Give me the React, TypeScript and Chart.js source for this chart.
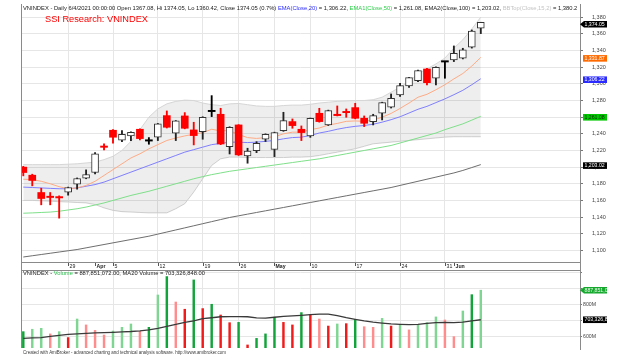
import React, { useEffect, useRef } from "react";
import { Chart, registerables } from "chart.js";
Chart.register(...registerables);

const FONT = "'Liberation Sans', Arial, sans-serif";

// ---------- data ----------
const sessions = [
  "2021-03-22","2021-03-23","2021-03-24","2021-03-25","2021-03-26",
  "2021-03-29","2021-03-30","2021-03-31","2021-04-01","2021-04-02",
  "2021-04-05","2021-04-06","2021-04-07","2021-04-08","2021-04-09",
  "2021-04-12","2021-04-13","2021-04-14","2021-04-15","2021-04-16",
  "2021-04-19","2021-04-20","2021-04-22","2021-04-23",
  "2021-04-26","2021-04-27","2021-04-28","2021-04-29",
  "2021-05-04","2021-05-05","2021-05-06","2021-05-07",
  "2021-05-10","2021-05-11","2021-05-12","2021-05-13","2021-05-14",
  "2021-05-17","2021-05-18","2021-05-19","2021-05-20","2021-05-21",
  "2021-05-24","2021-05-25","2021-05-26","2021-05-27","2021-05-28",
  "2021-05-31","2021-06-01","2021-06-02","2021-06-03","2021-06-04",
];

const openPx = [
  1200, 1190.3, 1169.5, 1164.5, 1164, 1169.9, 1179.5, 1186.7, 1193.5, 1224.8,
  1244.3, 1232.3, 1237.5, 1245.5, 1231.3, 1235.9, 1261.9, 1240.7, 1261.5, 1244.7,
  1242.7, 1266.7, 1263.5, 1224.7, 1250.7, 1213.4, 1219.8, 1233.5, 1221.4, 1243.9,
  1254.7, 1245.5, 1237.5, 1264.7, 1250.7, 1263.5, 1266.4, 1271.5, 1258.7, 1254.7,
  1264.7, 1271.9, 1286.7, 1297.5, 1303.9, 1317.9, 1306.8, 1326.3, 1328.8, 1330.8,
  1344, 1367.08,
];
const highPx = [
  1201, 1191.5, 1174.7, 1169.5, 1165.5, 1176, 1187, 1196.7, 1217.5, 1227.9,
  1245, 1243.9, 1242.5, 1246, 1235.5, 1252.5, 1267.5, 1256, 1265.5, 1253.9,
  1260.5, 1285.9, 1270.7, 1248.5, 1251, 1222.7, 1230.6, 1240, 1242, 1265.9,
  1257.9, 1249.5, 1259, 1270.7, 1268.5, 1273.5, 1269.9, 1276.7, 1261.5, 1263.5,
  1278, 1287.9, 1300.8, 1308, 1316.5, 1318.7, 1320.6, 1326.8, 1345.6, 1342.8,
  1364.8, 1374.05,
];
const lowPx = [
  1189.5, 1177.5, 1154.7, 1154.7, 1138.7, 1166.3, 1173.5, 1186, 1191.9, 1220.7,
  1228.7, 1230.7, 1231.9, 1232.7, 1227.5, 1231.9, 1247, 1231.9, 1246, 1226.7,
  1233.5, 1260.7, 1227, 1215.8, 1214, 1204.7, 1217.4, 1230.7, 1212.6, 1243,
  1246.7, 1231.9, 1235.8, 1254, 1250, 1261.5, 1259.9, 1258, 1248.7, 1250.7,
  1256.7, 1271, 1285, 1295.9, 1302.7, 1298.8, 1298.8, 1306.8, 1326.8, 1330,
  1343, 1360.42,
];
const closePx = [
  1193.5, 1184, 1162.3, 1163.5, 1163, 1175.5, 1186.3, 1191.1, 1215.9, 1223.8,
  1235.9, 1239.5, 1241.9, 1234.3, 1231.3, 1251.9, 1247.9, 1255.5, 1246.7, 1237.9,
  1259.9, 1266.7, 1227.8, 1247.9, 1214.7, 1219.4, 1228.7, 1239.5, 1241.5, 1255.9,
  1249.9, 1241.5, 1258.7, 1254.7, 1267.9, 1261.9, 1265.4, 1258.7, 1252.7, 1261.9,
  1277.5, 1282.7, 1297.9, 1307.5, 1315.9, 1301.5, 1319.9, 1326.3, 1336.8, 1340.8,
  1363.6, 1374.05,
];

// orange line (shorter EMA)
const emaShort = [
  1185.5, 1185, 1183, 1180, 1176.5, 1174, 1175, 1178, 1183, 1190,
  1197, 1204, 1211, 1216, 1222, 1227, 1232, 1235, 1237.5, 1239.5,
  1241.5, 1245.5, 1243.5, 1244, 1239, 1235.5, 1234.5, 1235.5, 1236.5, 1240,
  1242, 1242, 1245, 1247, 1250.5, 1252.5, 1255, 1255.5, 1255, 1256.5,
  1260, 1264.5, 1270.5, 1277, 1284, 1287.5, 1293, 1299, 1306, 1312.5,
  1321.5, 1331.87,
];
// EMA(Close,20) blue
const ema20 = [
  1176, 1175.5, 1175, 1174.5, 1174, 1174, 1175, 1177, 1179, 1182,
  1186, 1190, 1194, 1198, 1202, 1206, 1210, 1214, 1218, 1221,
  1224, 1227, 1228.5, 1230, 1230, 1229.5, 1230, 1231, 1232, 1234,
  1235.5, 1236, 1238, 1241, 1243, 1245.5, 1247.5, 1249, 1250, 1251.5,
  1254, 1257, 1260.5, 1265, 1269.5, 1273, 1277.5, 1282, 1287, 1292.3,
  1299, 1306.22,
];
// EMA1(Close,50) green
const ema50 = [
  1144.6, 1145, 1145.5, 1146, 1147, 1148.5, 1150, 1152, 1154.5, 1157,
  1160, 1163, 1166, 1168.5, 1171, 1174, 1177, 1180, 1183, 1186,
  1188.6, 1191, 1193, 1195, 1196.5, 1198, 1199.5, 1201, 1202.5, 1204,
  1205.5, 1207, 1208.5, 1210, 1212, 1214, 1216, 1218, 1220, 1222,
  1224, 1226, 1229, 1232, 1235, 1238, 1241, 1245, 1248.5, 1252,
  1256.5, 1261.08,
];
// EMA2(Close,100) dark grey
const ema100 = [
  1092, 1093.5, 1095, 1096.5, 1098, 1099.5, 1101, 1103, 1105, 1107,
  1109, 1111, 1113, 1115, 1117, 1119.5, 1122, 1124.5, 1127, 1129.5,
  1132, 1134.5, 1137, 1139.5, 1141.5, 1143.5, 1145.5, 1147.5, 1149.5, 1151.5,
  1153.5, 1155.5, 1157.5, 1159.5, 1161.5, 1163.5, 1165.5, 1167.5, 1169.5, 1171.5,
  1173.5, 1175.5, 1178, 1180.5, 1183, 1185.5, 1188, 1190.5, 1193, 1196,
  1199.5, 1203.02,
];
// Bollinger bands (15, 2)
const bbTop = [
  1203, 1203, 1203, 1203, 1203, 1203.5, 1204, 1205, 1206, 1209,
  1213, 1220, 1231, 1245, 1260, 1270, 1276, 1279, 1280.5, 1280,
  1277, 1275, 1274, 1276, 1276.5, 1275, 1273.5, 1273, 1273, 1274,
  1274.5, 1274.5, 1275.5, 1277, 1278, 1279, 1279.5, 1280, 1280, 1281,
  1284, 1290, 1296, 1303, 1312, 1318, 1324, 1331, 1343, 1353,
  1366, 1380.2,
];
const bbBottom = [
  1160, 1160, 1159.5, 1159, 1158.5, 1158, 1157.5, 1157, 1155, 1151,
  1148, 1146.5, 1146, 1145.5, 1145, 1145, 1145, 1150, 1156, 1170,
  1186, 1202, 1210, 1212, 1212, 1211.5, 1211.5, 1211.5, 1211.5, 1211.5,
  1212, 1212, 1212.5, 1214, 1216, 1218, 1220, 1222, 1225, 1228,
  1229, 1230, 1231, 1232, 1233, 1234, 1235, 1236, 1236.5, 1236.5,
  1236.5, 1236.5,
];

// volume, millions of shares
const volumeM = [
  629, 644, 650, 615, 629, 592, 708, 671, 637, 608,
  633, 656, 677, 631, 656, 858, 973, 814, 769, 952,
  773, 800, 733, 685, 687, 546, 587, 615, 719, 687,
  671, 748, 733, 708, 664, 677, 679, 706, 660, 656,
  712, 664, 671, 640, 671, 685, 721, 702, 598, 758,
  860, 887.851072,
];
// bar shade: G dark green, g light green, R red, r pink
const volumeTone = [
  "G","g","g","r","g","R","g","r","r","r",
  "g","g","g","r","G","g","G","r","R","G",
  "R","G","R","R","G","R","G","G","G","R",
  "R","G","R","r","R","g","R","G","r","r",
  "g","R","g","r","g","g","g","r","r","g",
  "G","g",
];
const volumeMA20 = [
  587, 590, 592, 600, 606, 612, 615, 618, 621, 623,
  625, 628, 630, 634, 640, 650, 662, 675, 687, 696,
  710, 716, 722, 723, 723, 722, 715, 714, 719, 725,
  728, 731, 735, 739, 739, 729, 716, 706, 696, 688,
  682, 677, 675, 673, 675, 681, 685, 687, 686, 688,
  696, 703.326848,
];

const priceTicks = [1100, 1120, 1140, 1160, 1180, 1200, 1220, 1240, 1260, 1280, 1300, 1320, 1340, 1360, 1380];
const volumeTicks = [600, 700, 800, 900, 1000];
const volumeLabelled = [600, 800];
const weekGridIdx = [5, 10, 15, 20, 24, 28, 32, 37, 42, 47];
const axisLabelIdx = [5, 8, 10, 15, 20, 24, 28, 32, 37, 42, 47, 48];
const axisLabelText = ["29", "Apr", "5", "12", "19", "26", "May", "10", "17", "24", "31", "Jun"];

const mainHeader: [string, string][] = [
  ["VNINDEX - Daily 6/4/2021 00:00:00 Open 1367.08, Hi 1374.05, Lo 1360.42, Close 1374.05 (0.7%) ", "#1a1a1a"],
  ["EMA(Close,20)", "#2a2aff"],
  [" = 1,306.22, ", "#1a1a1a"],
  ["EMA1(Close,50)", "#2ecc4a"],
  [" = 1,261.08, ", "#1a1a1a"],
  ["EMA2(Close,100) = 1,203.02, ", "#1a1a1a"],
  ["BBTop(Close,15,2)", "#c4c4c4"],
  [" = 1,380.2", "#1a1a1a"],
];
const chartTitle = "SSI Research: VNINDEX";
const volumeHeader: [string, string][] = [
  ["VNINDEX - ", "#1a1a1a"],
  ["Volume", "#2ec050"],
  [" = 887,851,072.00, MA20 Volume = 703,326,848.00", "#1a1a1a"],
];
const creditText = "Created with AmiBroker - advanced charting and technical analysis software. http://www.amibroker.com";

// ---------- styling ----------
const X_MIN = -0.256;
const X_MAX = 62.06;
const GRID = "#e6e6e6";
const FRAME = "#8a8a8a";
const TONE: Record<string, string> = { G: "#12a43a", g: "#7fd692", R: "#f01c1c", r: "#ff8d8d" };

function fitRun(ctx: CanvasRenderingContext2D, parts: [string, string][], x: number, y: number, width: number, weight = "") {
  ctx.font = `${weight} 10px ${FONT}`;
  const w10 = ctx.measureText(parts.map((p) => p[0]).join("")).width;
  const size = (10 * width) / w10;
  ctx.font = `${weight} ${size}px ${FONT}`;
  ctx.textBaseline = "middle";
  ctx.textAlign = "left";
  let cx = x;
  for (const [t, c] of parts) {
    ctx.fillStyle = c;
    ctx.fillText(t, cx, y);
    cx += ctx.measureText(t).width;
  }
}

function drawTag(ctx: CanvasRenderingContext2D, y: number, text: string, bg: string, fg: string, arrow: boolean) {
  const h = 6.6;
  const left = arrow ? 580 : 583;
  const right = 607;
  ctx.save();
  ctx.beginPath();
  if (arrow) {
    ctx.moveTo(left, y);
    ctx.lineTo(left + 4, y - h / 2);
    ctx.lineTo(right, y - h / 2);
    ctx.lineTo(right, y + h / 2);
    ctx.lineTo(left + 4, y + h / 2);
    ctx.closePath();
  } else {
    ctx.rect(left, y - h / 2, right - left, h);
  }
  ctx.fillStyle = bg;
  ctx.fill();
  ctx.clip();
  ctx.font = `5.2px ${FONT}`;
  ctx.fillStyle = fg;
  ctx.textAlign = "left";
  ctx.textBaseline = "middle";
  ctx.fillText(text, 584.5, y + 0.3);
  ctx.restore();
}

const fmt2 = (v: number) => v.toLocaleString("en-US", { minimumFractionDigits: 2, maximumFractionDigits: 2 });

const whiteBg = {
  id: "whiteBg",
  beforeDraw(chart: any) {
    const c = chart.ctx;
    c.save();
    c.fillStyle = "#ffffff";
    c.fillRect(0, 0, chart.width, chart.height);
    c.restore();
  },
};

const mainDecor = {
  id: "mainDecor",
  afterDraw(chart: any) {
    const ctx: CanvasRenderingContext2D = chart.ctx;
    const xs = chart.scales.x;
    const ys = chart.scales.y;
    const area = chart.chartArea;
    ctx.save();
    // frame lines
    ctx.strokeStyle = FRAME;
    ctx.lineWidth = 1;
    ctx.beginPath();
    ctx.moveTo(area.left + 0.5, area.top);
    ctx.lineTo(area.left + 0.5, chart.height);
    ctx.moveTo(area.right + 0.5, area.bottom);
    ctx.lineTo(area.right + 0.5, chart.height);
    ctx.stroke();
    // date row
    ctx.strokeStyle = "#555";
    ctx.fillStyle = "#222";
    ctx.textBaseline = "middle";
    ctx.textAlign = "left";
    axisLabelIdx.forEach((idx, k) => {
      const px = Math.round(xs.getPixelForValue(idx));
      ctx.beginPath();
      ctx.moveTo(px + 0.5, area.bottom + 1);
      ctx.lineTo(px + 0.5, area.bottom + 4);
      ctx.stroke();
      const txt = axisLabelText[k];
      const isMonth = /[A-Za-z]/.test(txt);
      ctx.font = `${isMonth ? "bold " : ""}5.2px ${FONT}`;
      ctx.fillText(txt, px + 1.5, area.bottom + 4.2);
    });
    // header lines
    fitRun(ctx, mainHeader, 23, 8, 556);
    fitRun(ctx, [[chartTitle, "#ff0000"]], 45, 19.6, 103);
    // value tags
    const last = sessions.length - 1;
    const yp = (v: number) => ys.getPixelForValue(v) + 1;
    drawTag(ctx, yp(ema100[last]), fmt2(ema100[last]), "#000000", "#ffffff", false);
    drawTag(ctx, yp(ema50[last]), fmt2(ema50[last]), "#00c800", "#062a06", false);
    drawTag(ctx, yp(ema20[last]), fmt2(ema20[last]), "#2b2bff", "#ffffff", false);
    drawTag(ctx, yp(emaShort[last]), fmt2(emaShort[last]), "#ff6a00", "#ffffff", false);
    drawTag(ctx, yp(closePx[last]) + 1, fmt2(closePx[last]), "#000000", "#ffffff", true);
    ctx.restore();
  },
};

const volDecor = {
  id: "volDecor",
  afterDraw(chart: any) {
    const ctx: CanvasRenderingContext2D = chart.ctx;
    const ys = chart.scales.y;
    const area = chart.chartArea;
    ctx.save();
    ctx.strokeStyle = FRAME;
    ctx.lineWidth = 1;
    ctx.beginPath();
    ctx.moveTo(area.left, 0.5);
    ctx.lineTo(area.right + 1, 0.5);
    ctx.moveTo(area.left + 0.5, 0);
    ctx.lineTo(area.left + 0.5, area.bottom);
    ctx.moveTo(area.right + 0.5, 0);
    ctx.lineTo(area.right + 0.5, area.bottom + 2);
    ctx.stroke();
    fitRun(ctx, volumeHeader, 23, 3.6, 182);
    const last = sessions.length - 1;
    drawTag(ctx, ys.getPixelForValue(volumeMA20[last]), Math.round(volumeMA20[last] * 1e6).toLocaleString("en-US"), "#000000", "#ffffff", false);
    drawTag(ctx, ys.getPixelForValue(volumeM[last]), Math.round(volumeM[last] * 1e6).toLocaleString("en-US"), "#16a82e", "#e8ffe8", true);
    fitRun(ctx, [[creditText, "#3a3a3a"]], 23, 82.4, 204);
    ctx.restore();
  },
};

export default function App() {
  const mainRef = useRef<HTMLCanvasElement>(null);
  const volRef = useRef<HTMLCanvasElement>(null);

  useEffect(() => {
    document.body.style.margin = "0";
    const idx = sessions.map((_, i) => i);
    const up = idx.map((i) => closePx[i] > openPx[i]);
    const down = idx.map((i) => closePx[i] < openPx[i]);
    const bodyFill = idx.map((i) => (up[i] ? "#ffffff" : down[i] ? "#ff0000" : "#000000"));
    const bodyBorder = idx.map((i) => (up[i] ? "#333333" : down[i] ? "#ff0000" : "#000000"));
    const wickColor = idx.map((i) => (up[i] ? "#222222" : down[i] ? "#ff0000" : "#000000"));

    const line = (data: number[], color: string, order: number, extra: any = {}) => ({
      type: "line",
      data: data.map((v, i) => ({ x: i, y: v })),
      borderColor: color,
      borderWidth: 1,
      pointRadius: 0,
      tension: 0,
      fill: false,
      order,
      ...extra,
    });

    const mainChart = new Chart(mainRef.current as HTMLCanvasElement, {
      type: "bar",
      data: {
        datasets: [
          line(bbTop, "#d6d6d6", 9, { fill: "+1", backgroundColor: "rgba(0,0,0,0.065)" }),
          line(bbBottom, "#d6d6d6", 10),
          line(ema100, "#6e6e6e", 6),
          line(ema50, "#7fe08a", 5),
          line(ema20, "#7f7fff", 4),
          line(emaShort, "#ffab85", 3),
          {
            type: "bar",
            data: idx.map((i) => ({ x: i, y: [lowPx[i], highPx[i]] })),
            backgroundColor: wickColor,
            borderWidth: 0,
            barThickness: 1.2,
            grouped: false,
            order: 2,
          },
          {
            type: "bar",
            data: idx.map((i) => ({ x: i, y: [openPx[i], closePx[i]] })),
            backgroundColor: bodyFill,
            borderColor: bodyBorder,
            borderWidth: idx.map((i) => (up[i] ? 1 : 0)),
            borderSkipped: false,
            barThickness: 7,
            minBarLength: 1.3,
            grouped: false,
            order: 1,
          },
        ] as any,
      },
      options: {
        responsive: false,
        animation: false,
        devicePixelRatio: 1,
        events: [],
        layout: { padding: { left: 21, top: 4, right: 0, bottom: 0 }, autoPadding: false } as any,
        plugins: { legend: { display: false }, tooltip: { enabled: false } },
        scales: {
          x: {
            type: "linear",
            min: X_MIN,
            max: X_MAX,
            offset: false,
            afterBuildTicks: (s: any) => {
              s.ticks = weekGridIdx.map((v) => ({ value: v }));
            },
            afterFit: (s: any) => {
              s.height = 8;
              s.paddingLeft = 0;
              s.paddingRight = 0;
            },
            ticks: { display: false, autoSkip: false },
            grid: { color: GRID, drawTicks: false, offset: false },
            border: { display: true, color: FRAME },
          },
          y: {
            type: "linear",
            position: "right",
            min: 1086,
            max: 1396,
            afterBuildTicks: (s: any) => {
              s.ticks = priceTicks.map((v) => ({ value: v }));
            },
            afterFit: (s: any) => {
              s.width = 53;
              s.paddingTop = 0;
              s.paddingBottom = 0;
            },
            ticks: {
              autoSkip: false,
              padding: 9,
              color: "#444",
              font: { family: FONT, size: 5.5 },
              callback: (v: any) => Number(v).toLocaleString("en-US"),
            },
            grid: { color: GRID, tickLength: 3, tickColor: "#777" },
            border: { color: FRAME },
          },
        } as any,
      },
      plugins: [whiteBg, mainDecor],
    } as any);

    const volChart = new Chart(volRef.current as HTMLCanvasElement, {
      type: "bar",
      data: {
        datasets: [
          line(volumeMA20, "#3a3a3a", 1, { borderWidth: 1.3 }),
          {
            type: "bar",
            data: volumeM.map((v, i) => ({ x: i, y: v })),
            backgroundColor: volumeTone.map((t) => TONE[t]),
            borderWidth: 0,
            barThickness: 1.8,
            grouped: false,
            order: 2,
          },
        ] as any,
      },
      options: {
        responsive: false,
        animation: false,
        devicePixelRatio: 1,
        events: [],
        layout: { padding: { left: 21, top: 0, right: 0, bottom: 14 }, autoPadding: false } as any,
        plugins: { legend: { display: false }, tooltip: { enabled: false } },
        scales: {
          x: {
            type: "linear",
            min: X_MIN,
            max: X_MAX,
            offset: false,
            afterBuildTicks: (s: any) => {
              s.ticks = weekGridIdx.map((v) => ({ value: v }));
            },
            afterFit: (s: any) => {
              s.height = 0;
              s.paddingLeft = 0;
              s.paddingRight = 0;
            },
            ticks: { display: false, autoSkip: false },
            grid: { color: GRID, drawTicks: false, offset: false },
            border: { display: false },
          },
          y: {
            type: "linear",
            position: "right",
            min: 527,
            max: 1014,
            beginAtZero: false,
            afterBuildTicks: (s: any) => {
              s.ticks = volumeTicks.map((v) => ({ value: v }));
            },
            afterFit: (s: any) => {
              s.width = 53;
              s.paddingTop = 0;
              s.paddingBottom = 0;
            },
            ticks: {
              autoSkip: false,
              padding: 1,
              color: "#444",
              font: { family: FONT, size: 5.2 },
              callback: (v: any) => (volumeLabelled.includes(Number(v)) ? `${v}M` : ""),
            },
            grid: { color: GRID, tickLength: 2, tickColor: "#777" },
            border: { color: FRAME },
          },
        } as any,
      },
      plugins: [whiteBg, volDecor],
    } as any);

    return () => {
      mainChart.destroy();
      volChart.destroy();
    };
  }, []);

  return (
    <div style={{ position: "relative", width: 633, height: 362, background: "#ffffff" }}>
      <canvas ref={mainRef} width={633} height={270} style={{ position: "absolute", left: 0, top: 0, width: 633, height: 270 }} />
      <canvas ref={volRef} width={633} height={92} style={{ position: "absolute", left: 0, top: 270, width: 633, height: 92 }} />
    </div>
  );
}
